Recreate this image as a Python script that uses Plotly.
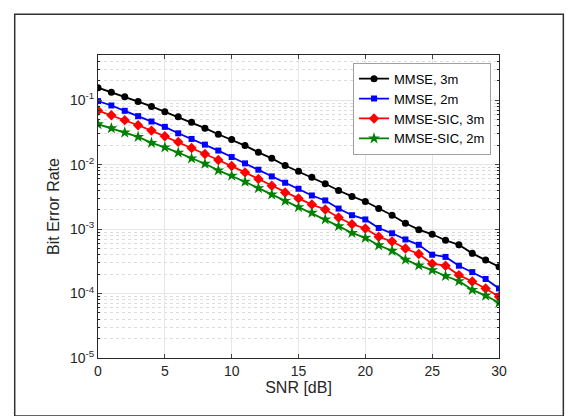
import plotly.graph_objects as go

snr = list(range(0, 31))

mmse_3m = [0.156, 0.133, 0.113, 0.095, 0.080, 0.066, 0.055, 0.0455, 0.0367, 0.0296,
           0.0244, 0.0197, 0.0155, 0.0125, 0.0097, 0.00785, 0.00634, 0.00505, 0.00397, 0.00321,
           0.00268, 0.00208, 0.00164, 0.00123, 0.00098, 0.00083, 0.00067, 0.00057, 0.00042, 0.00033,
           0.00026]
mmse_2m = [0.0965, 0.0826, 0.0683, 0.0564, 0.0466, 0.0385, 0.0306, 0.025, 0.0204, 0.0165,
           0.0131, 0.01045, 0.00833, 0.00656, 0.00523, 0.00422, 0.00332, 0.00278, 0.00208, 0.00164,
           0.00141, 0.00104, 0.00086, 0.00069, 0.00057, 0.00040, 0.00037, 0.00027, 0.000215, 0.000168,
           0.00012]
sic_3m = [0.069, 0.0584, 0.0489, 0.0408, 0.0337, 0.0275, 0.0225, 0.0181, 0.0146, 0.0118,
          0.0095, 0.00757, 0.00597, 0.0047, 0.0037, 0.00299, 0.0024, 0.00201, 0.00151, 0.00119,
          0.00102, 0.00076, 0.00064, 0.0005, 0.00041, 0.00029, 0.00027, 0.000193, 0.000154, 0.00012,
          0.000089]
sic_2m = [0.0423, 0.0366, 0.0314, 0.0269, 0.0217, 0.0185, 0.0153, 0.0125, 0.0103, 0.00814,
          0.00673, 0.00542, 0.00432, 0.00344, 0.00274, 0.00219, 0.00179, 0.00141, 0.00111, 0.00087,
          0.00073, 0.00056, 0.00046, 0.000335, 0.000273, 0.000231, 0.000187, 0.000156, 0.000114, 0.000093,
          0.000072]

series = [
    ("MMSE, 3m", mmse_3m, "#000000", "circle", 7),
    ("MMSE, 2m", mmse_2m, "#0000ff", "square", 6),
    ("MMSE-SIC, 3m", sic_3m, "#ff0000", "diamond", 8),
    ("MMSE-SIC, 2m", sic_2m, "#008000", "star", 9),
]

x_ticks = [0, 5, 10, 15, 20, 25, 30]
y_tickvals = [1e-5, 1e-4, 1e-3, 1e-2, 1e-1]
y_ticktext = ["10<sup>-5</sup>", "10<sup>-4</sup>", "10<sup>-3</sup>", "10<sup>-2</sup>", "10<sup>-1</sup>"]

fig = go.Figure()
for name, vals, color, sym, size in series:
    fig.add_trace(go.Scatter(
        x=snr, y=vals, name=name, mode="lines+markers",
        line=dict(color=color, width=1.8),
        marker=dict(symbol=sym, size=size, color=color, line=dict(width=0)),
    ))

font_family = "Liberation Sans, Arial, sans-serif"
L, R, T, B = 89.5, 84.5, 47.3, 66
W, H = 576, 416
pw, ph = W - L - R, H - T - B

fig.update_layout(
    width=W, height=H,
    margin=dict(l=L, r=R, t=T, b=B, pad=0),
    paper_bgcolor="white", plot_bgcolor="white",
    font=dict(family=font_family, size=14, color="#262626"),
    showlegend=True,
    legend=dict(
        x=(483.5 - L) / pw, xanchor="right",
        y=(H - B - 55) / ph, yanchor="top",
        bgcolor="white", bordercolor="#a0a0a0", borderwidth=1,
        font=dict(size=13, color="#000000"),
        itemwidth=30, tracegroupgap=0,
    ),
    xaxis=dict(
        range=[0, 30], tickvals=x_ticks, ticks="inside", ticklen=4,
        showline=True, linecolor="#262626", linewidth=1, mirror="ticks",
        showgrid=True, gridcolor="#e6e6e6", gridwidth=1, zeroline=False,
        title=dict(text="SNR [dB]", font=dict(size=16), standoff=4),
        tickfont=dict(size=14),
    ),
    yaxis=dict(
        type="log", range=[-5, -0.3], tickvals=y_tickvals, ticktext=y_ticktext,
        ticks="inside", ticklen=4,
        showline=True, linecolor="#262626", linewidth=1, mirror="ticks",
        showgrid=True, gridcolor="#e6e6e6", gridwidth=1, zeroline=False,
        title=dict(text="Bit Error Rate", font=dict(size=16), standoff=6),
        tickfont=dict(size=14),
        minor=dict(dtick="D1", ticks="inside", ticklen=2, tickcolor="#262626",
                   showgrid=True, gridcolor="#dcdcdc", griddash="dot", gridwidth=1),
    ),
    shapes=[dict(
        type="rect", xref="paper", yref="paper",
        x0=(6 - L) / pw, x1=(556 - L) / pw,
        y0=(H - B - 408) / ph, y1=(H - B - 6.7) / ph,
        line=dict(color="#303030", width=1.5), fillcolor="rgba(0,0,0,0)", layer="below",
    )],
)

fig.write_html("out.html")
